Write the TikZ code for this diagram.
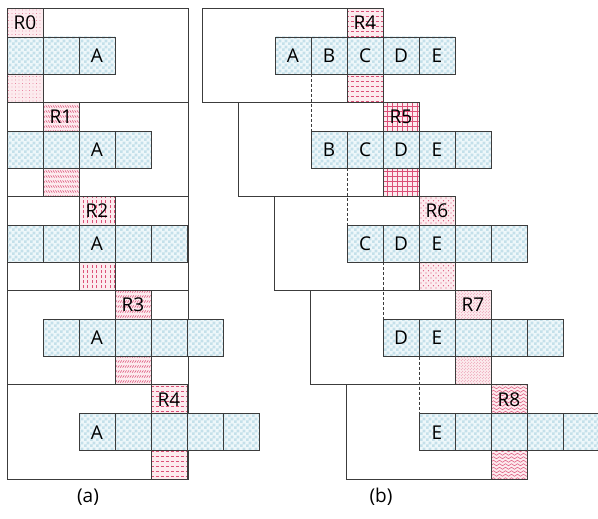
\documentclass[tikz,border=0pt]{standalone}
\usepackage{fontspec}
\setmainfont{Open Sans}
\usetikzlibrary{patterns}
\definecolor{lineg}{HTML}{3C3C3C}
\definecolor{chkd}{HTML}{C4E0EA}
\definecolor{chkl}{HTML}{EEF7FA}
\definecolor{pinkbg}{HTML}{FCEBEE}
\definecolor{redm}{HTML}{DC5078}
\newcommand\cellfont{\fontsize{19}{22}\selectfont}
\pgfdeclarepatternformonly{chk}{\pgfqpoint{0pt}{0pt}}{\pgfqpoint{6pt}{6pt}}{\pgfqpoint{6pt}{6pt}}{%
  \pgfpathrectangle{\pgfqpoint{0pt}{0pt}}{\pgfqpoint{3pt}{3pt}}%
  \pgfpathrectangle{\pgfqpoint{3pt}{3pt}}{\pgfqpoint{3pt}{3pt}}%
  \pgfusepath{fill}}
\pgfdeclarepatternformonly{dotsA}{\pgfqpoint{-1pt}{-1pt}}{\pgfqpoint{4pt}{4pt}}{\pgfqpoint{3.5pt}{3.5pt}}{%
  \pgfpathcircle{\pgfqpoint{1.5pt}{1.5pt}}{0.45pt}\pgfusepath{fill}}
\pgfdeclarepatternformonly{rone}{\pgfqpoint{-1pt}{-1pt}}{\pgfqpoint{3.5pt}{6pt}}{\pgfqpoint{2.4pt}{5pt}}{%
  \pgfsetlinewidth{0.55pt}\pgfpathmoveto{\pgfqpoint{0.2pt}{3.6pt}}\pgfpathlineto{\pgfqpoint{1.8pt}{1.4pt}}\pgfusepath{stroke}}
\pgfdeclarepatternformonly{rthree}{\pgfqpoint{-1pt}{-1pt}}{\pgfqpoint{3.5pt}{6pt}}{\pgfqpoint{2.4pt}{5pt}}{%
  \pgfsetlinewidth{0.55pt}\pgfpathmoveto{\pgfqpoint{0.2pt}{1.4pt}}\pgfpathlineto{\pgfqpoint{1.8pt}{3.6pt}}\pgfusepath{stroke}}
\pgfdeclarepatternformonly{vdash}{\pgfqpoint{-1pt}{-1pt}}{\pgfqpoint{6pt}{6pt}}{\pgfqpoint{4.5pt}{5pt}}{%
  \pgfsetlinewidth{0.55pt}\pgfpathmoveto{\pgfqpoint{2pt}{0.8pt}}\pgfpathlineto{\pgfqpoint{2pt}{4.2pt}}\pgfusepath{stroke}}
\pgfdeclarepatternformonly{hdash}{\pgfqpoint{-1pt}{-1pt}}{\pgfqpoint{6pt}{6pt}}{\pgfqpoint{5pt}{5pt}}{%
  \pgfsetlinewidth{0.55pt}\pgfpathmoveto{\pgfqpoint{0.8pt}{2.5pt}}\pgfpathlineto{\pgfqpoint{4.2pt}{2.5pt}}\pgfusepath{stroke}}
\pgfdeclarepatternformonly{gridA}{\pgfqpoint{-1pt}{-1pt}}{\pgfqpoint{6pt}{6pt}}{\pgfqpoint{5pt}{5pt}}{%
  \pgfsetlinewidth{0.3pt}\pgfpathmoveto{\pgfqpoint{0pt}{2.5pt}}\pgfpathlineto{\pgfqpoint{5pt}{2.5pt}}%
  \pgfpathmoveto{\pgfqpoint{2.5pt}{0pt}}\pgfpathlineto{\pgfqpoint{2.5pt}{5pt}}\pgfusepath{stroke}}
\pgfdeclarepatternformonly{rsix}{\pgfqpoint{-1pt}{-1pt}}{\pgfqpoint{6pt}{6pt}}{\pgfqpoint{5pt}{5pt}}{%
  \pgfpathcircle{\pgfqpoint{1pt}{1pt}}{0.55pt}\pgfpathcircle{\pgfqpoint{3.5pt}{3.2pt}}{0.55pt}\pgfusepath{fill}}
\pgfdeclarepatternformonly{rseven}{\pgfqpoint{-1pt}{-1pt}}{\pgfqpoint{4pt}{4pt}}{\pgfqpoint{3pt}{3pt}}{%
  \pgfpathcircle{\pgfqpoint{0.75pt}{0.75pt}}{0.4pt}\pgfpathcircle{\pgfqpoint{2.25pt}{2.25pt}}{0.4pt}\pgfusepath{fill}}
\pgfdeclarepatternformonly{waveA}{\pgfqpoint{-1pt}{-1pt}}{\pgfqpoint{7pt}{5pt}}{\pgfqpoint{6pt}{3.5pt}}{%
  \pgfsetlinewidth{0.5pt}\pgfpathmoveto{\pgfqpoint{0pt}{1.75pt}}%
  \pgfpathcurveto{\pgfqpoint{1pt}{3.2pt}}{\pgfqpoint{2pt}{3.2pt}}{\pgfqpoint{3pt}{1.75pt}}%
  \pgfpathcurveto{\pgfqpoint{4pt}{0.3pt}}{\pgfqpoint{5pt}{0.3pt}}{\pgfqpoint{6pt}{1.75pt}}\pgfusepath{stroke}}
\begin{document}
\begin{tikzpicture}[x=1pt,y=-1pt,
  frm/.style={draw=lineg, line width=0.9pt, inner sep=0, outer sep=0, anchor=north west, minimum width=181pt, minimum height=94.2pt},
  cellb/.style={draw=lineg, line width=0.9pt, inner sep=0, outer sep=0, anchor=north west, minimum width=36pt, minimum height=37pt, preaction={fill=chkl}, pattern=chk, pattern color=chkd, font=\cellfont, text=black},
  rtop/.style={draw=lineg, line width=0.9pt, inner sep=0, outer sep=0, anchor=north west, minimum width=36pt, minimum height=29pt, preaction={fill=pinkbg}, pattern color=redm, font=\cellfont, text=black},
  rbot/.style={rtop, minimum height=28.2pt},
  dsh/.style={draw=lineg, line width=0.7pt, dash pattern=on 3pt off 2pt},
  lbl/.style={font=\cellfont, inner sep=0}]
\useasboundingbox (0,0) rectangle (598,519);
\foreach \s/\pa/\pb in {0/dotsA/hdash,1/rone/gridA,2/vdash/rsix,3/rthree/rseven,4/hdash/waveA} {
  \pgfmathsetmacro\T{8+94.2*\s}
  \pgfmathsetmacro\Ty{\T+29}
  \pgfmathsetmacro\Tz{\T+66}
  \node[frm] (fa-\s) at (7,\T) {};
  \node[frm] (fb-\s) at ({202+36*\s},\T) {};
  \pgfmathtruncatemacro\cmin{max(0,\s-2)}
  \pgfmathtruncatemacro\cmax{\s+2}
  \foreach \c in {\cmin,...,\cmax}
    \node[cellb] (a-\s-\c) at ({7+36*\c},\Ty) {\ifnum\c=2 A\fi};
  \pgfmathtruncatemacro\dmax{\s+4}
  \foreach \c in {\s,...,\dmax}
    \node[cellb] (b-\s-\c) at ({275+36*\c},\Ty) {\ifcase\c A\or B\or C\or D\or E\fi};
  \node[rtop, pattern=\pa] (ra-\s) at ({7+36*\s},\T) {R\s};
  \node[rbot, pattern=\pa] (rab-\s) at ({7+36*\s},\Tz) {};
  \pgfmathtruncatemacro\rn{\s+4}
  \node[rtop, pattern=\pb] (rb-\s) at ({347+36*\s},\T) {R\rn};
  \node[rbot, pattern=\pb] (rbb-\s) at ({347+36*\s},\Tz) {};
}
\foreach \s in {0,...,3} {
  \pgfmathtruncatemacro\n{\s+1}
  \draw[dsh] (b-\s-\n.south west) -- (b-\n-\n.north west);
}
\node[lbl] (la) at (88,497) {(a)};
\node[lbl] (lb) at (381,497) {(b)};
\end{tikzpicture}
\end{document}
